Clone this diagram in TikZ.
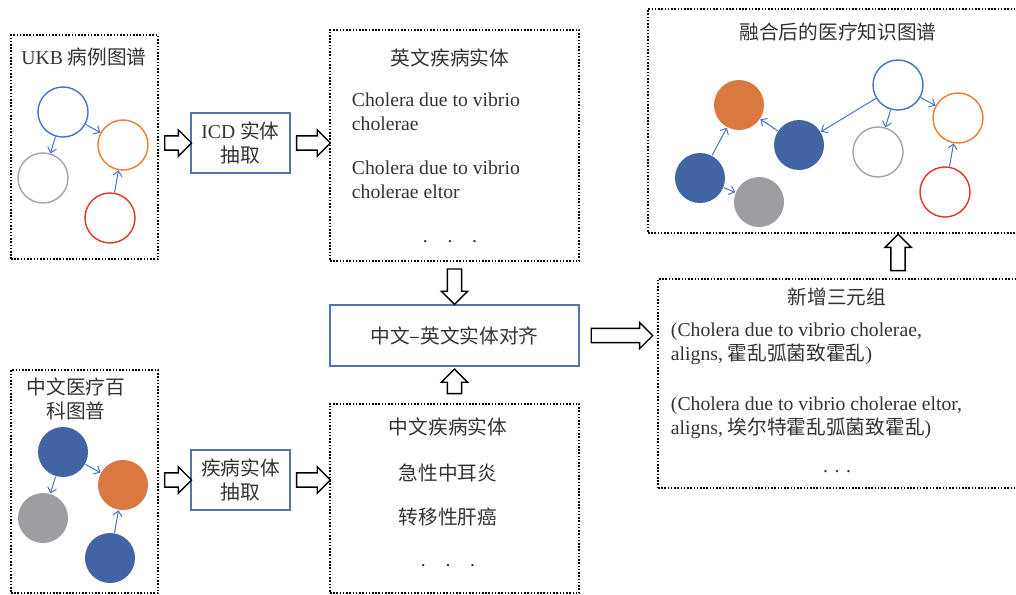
\documentclass[tikz,border=0pt]{standalone}
\usepackage{fontspec}
\setmainfont{Liberation Serif}
\newfontfamily\cjk{Noto Sans CJK SC}
\usetikzlibrary{shapes.arrows,calc,arrows.meta}

\definecolor{nodeblue}{HTML}{4472C4}
\definecolor{fillblue}{HTML}{4064A4}
\definecolor{nodeorange}{HTML}{ED7D31}
\definecolor{fillorange}{HTML}{D97941}
\definecolor{nodegray}{HTML}{A5A5A5}
\definecolor{fillgray}{HTML}{9D9EA1}
\definecolor{nodered}{HTML}{E5332A}
\definecolor{boxblue}{HTML}{5573B0}
\definecolor{txt}{HTML}{333333}

\tikzset{
	dotbox/.style={draw=black, line width=1.1pt, dash pattern=on 1.1pt off 1.2pt, inner sep=0pt},
	bluebox/.style={draw=boxblue, line width=0.9pt, inner sep=0pt, align=center},
	gnode/.style={circle, minimum size=1.25cm, inner sep=0pt, line width=1pt},
	link/.style={-{Straight Barb[length=3.5pt,width=6.5pt]}, draw=nodeblue, line width=0.7pt},
	hollowarrow/.style={single arrow, draw=black, fill=white, line width=1pt, inner sep=0.16cm,
		single arrow head extend=0.15cm, single arrow tip angle=90}
}

\newcommand{\blockarrow}[3][0.06]{%
	\path let \p1=($(#2)!#1cm!(#3)$), \p2=($(#3)!#1cm!(#2)$),
		\n1={veclen(\x2-\x1,\y2-\y1)}, \n2={atan2(\y2-\y1,\x2-\x1)} in
		node[hollowarrow, minimum height=\n1, rotate=\n2] at ($(\p1)!0.5!(\p2)$) {};}

\begin{document}
\begin{tikzpicture}[x=0.025cm, y=-0.025cm, font=\fontsize{14}{17}\selectfont, text=txt]
	\useasboundingbox (0,0) rectangle (1016,594);

	\node[dotbox, minimum width=3.675cm, minimum height=5.6cm] (ukb) at (84.5,147) {};
	\node[bluebox, minimum width=2.475cm, minimum height=1.5cm] (icd) at (240.5,143) {ICD {\cjk 实体}\\{\cjk 抽取}};
	\node[dotbox, minimum width=6.225cm, minimum height=5.775cm] (en) at (454.5,145.5) {};
	\node[dotbox, minimum width=9.35cm, minimum height=5.6cm] (kg) at (835,121) {};
	\node[dotbox, minimum width=3.675cm, minimum height=5.575cm] (zhkg) at (84.5,481.5) {};
	\node[bluebox, minimum width=2.475cm, minimum height=1.5cm] (ext) at (240.5,480) {{\cjk 疾病实体}\\{\cjk 抽取}};
	\node[bluebox, minimum width=6.225cm, minimum height=1.525cm] (al) at (454.5,335.5) {\cjk 中文–英文实体对齐};
	\node[dotbox, minimum width=6.225cm, minimum height=4.725cm] (zh) at (454.5,498.5) {};
	\node[dotbox, minimum width=9.1cm, minimum height=5.225cm] (tri) at (840,383.5) {};

	\node (ukbT) at (84,57) {UKB {\cjk 病例图谱}};
	\node (enT) at (450,58) {\cjk 英文疾病实体};
	\node[anchor=base west, align=left] (en1) at (347,130) {Cholera due to vibrio\\cholerae};
	\node[anchor=base west, align=left] (en2) at (347,198) {Cholera due to vibrio\\cholerae eltor};
	\node (enD) at (450,242) {.\quad.\quad.};
	\node (kgT) at (838,32) {\cjk 融合后的医疗知识图谱};
	\node[align=center] (zhkgT) at (76,399) {{\cjk 中文医疗百}\\{\cjk 科图普}};
	\node (zhT) at (448,427) {\cjk 中文疾病实体};
	\node (zh1) at (448,473) {\cjk 急性中耳炎};
	\node (zh2) at (448,517) {\cjk 转移性肝癌};
	\node (zhD) at (448,566) {.\quad.\quad.};
	\node (triT) at (837,297) {\cjk 新增三元组};
	\node[anchor=base west, align=left] (tri1) at (666,360) {(Cholera due to vibrio cholerae,\\aligns, {\cjk 霍乱弧菌致霍乱})};
	\node[anchor=base west, align=left] (tri2) at (666,434) {(Cholera due to vibrio cholerae eltor,\\aligns, {\cjk 埃尔特霍乱弧菌致霍乱})};
	\node (triD) at (837,472) {. . .};

	\node[gnode, draw=nodeblue] (u1) at (63,112) {};
	\node[gnode, draw=nodeorange] (u2) at (123,145) {};
	\node[gnode, draw=nodegray] (u3) at (43,178) {};
	\node[gnode, draw=nodered] (u4) at (110,218) {};
	\draw[link] (u1) -- (u2);
	\draw[link] (u1) -- (u3);
	\draw[link] (u4) -- (u2);

	\node[gnode, fill=fillblue] (c1) at (63,452) {};
	\node[gnode, fill=fillorange] (c2) at (123,485) {};
	\node[gnode, fill=fillgray] (c3) at (43,518) {};
	\node[gnode, fill=fillblue] (c4) at (110,558) {};
	\draw[link] (c1) -- (c2);
	\draw[link] (c1) -- (c3);
	\draw[link] (c4) -- (c2);

	\node[gnode, draw=nodeblue] (k1) at (898,85) {};
	\node[gnode, draw=nodeorange] (k2) at (958,118) {};
	\node[gnode, draw=nodegray] (k3) at (878,152) {};
	\node[gnode, draw=nodered] (k4) at (945,192) {};
	\node[gnode, fill=fillblue] (k5) at (799,145) {};
	\node[gnode, fill=fillorange] (k6) at (739,105) {};
	\node[gnode, fill=fillblue] (k7) at (700,178) {};
	\node[gnode, fill=fillgray] (k8) at (759,202) {};
	\draw[link] (k1) -- (k5);
	\draw[link] (k1) -- (k3);
	\draw[link] (k1) -- (k2);
	\draw[link] (k4) -- (k2);
	\draw[link] (k5) -- (k6);
	\draw[link] (k7) -- (k6);
	\draw[link] (k7) -- (k8);

	\blockarrow{ukb.east |- icd.west}{icd.west}
	\blockarrow{icd.east}{en.west |- icd.east}
	\blockarrow{zhkg.east |- ext.west}{ext.west}
	\blockarrow{ext.east}{zh.west |- ext.east}
	\blockarrow[0.09]{en.south}{al.north}
	\blockarrow[0.15]{zh.north}{al.south}
	\blockarrow[0.2]{al.east}{tri.west |- al.east}
	\blockarrow[0.1]{tri.north -| k1.south}{kg.south -| k1.south}
\end{tikzpicture}
\end{document}
